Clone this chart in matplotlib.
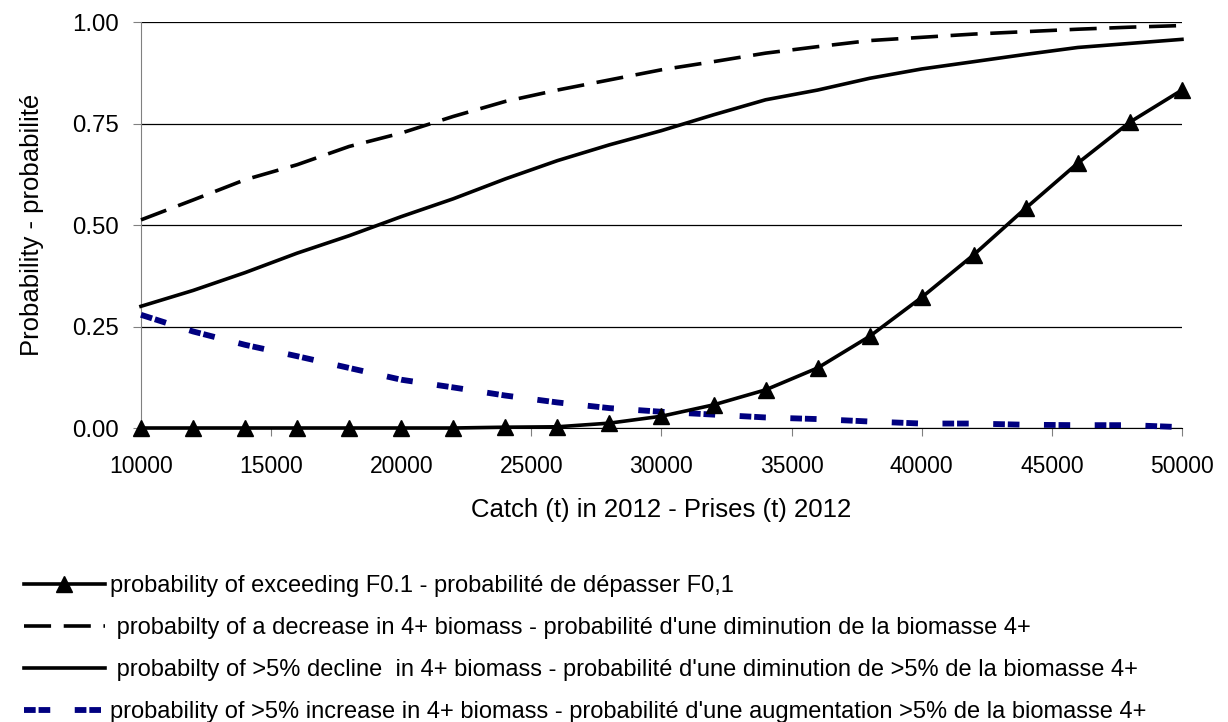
import matplotlib
matplotlib.use("Agg")
import matplotlib.pyplot as plt
from matplotlib.ticker import FormatStrFormatter

# catch scenarios (t) in 2012
catch = [10000, 12000, 14000, 16000, 18000, 20000, 22000, 24000, 26000, 28000, 30000,
         32000, 34000, 36000, 38000, 40000, 42000, 44000, 46000, 48000, 50000]

p_exceed_f01 = [0.0, 0.0, 0.0, 0.0, 0.0, 0.0, 0.0, 0.002, 0.003, 0.012, 0.029,
                0.057, 0.094, 0.148, 0.226, 0.322, 0.427, 0.542, 0.653, 0.754, 0.833]
p_decrease = [0.513, 0.562, 0.612, 0.649, 0.694, 0.727, 0.768, 0.805, 0.833, 0.858, 0.883,
              0.903, 0.924, 0.940, 0.955, 0.963, 0.971, 0.977, 0.983, 0.988, 0.992]
p_decline5 = [0.300, 0.339, 0.383, 0.431, 0.474, 0.521, 0.565, 0.614, 0.659, 0.698, 0.733,
              0.772, 0.809, 0.833, 0.862, 0.885, 0.903, 0.921, 0.938, 0.948, 0.958]
p_increase5 = [0.279, 0.238, 0.205, 0.177, 0.148, 0.119, 0.100, 0.080, 0.063, 0.049, 0.040,
               0.033, 0.026, 0.022, 0.016, 0.011, 0.011, 0.008, 0.007, 0.007, 0.002]

labels = [
    "probability of exceeding F0.1 - probabilité de dépasser F0,1",
    " probabilty of a decrease in 4+ biomass - probabilité d'une diminution de la biomasse 4+",
    " probabilty of >5% decline  in 4+ biomass - probabilité d'une diminution de >5% de la biomasse 4+",
    "probability of >5% increase in 4+ biomass - probabilité d'une augmentation >5% de la biomasse 4+",
]

plt.rcParams["font.family"] = ["Liberation Sans", "DejaVu Sans"]

fig = plt.figure(figsize=(12.28, 7.22), dpi=100)
ax = fig.add_axes([0.1148, 0.4072, 0.8477, 0.5619])

l1, = ax.plot(catch, p_exceed_f01, color="black", lw=2.6, marker="^", ms=12,
              clip_on=False, zorder=5)
l2, = ax.plot(catch, p_decrease, color="black", lw=2.6, dashes=(7.5, 3.5),
              clip_on=False, zorder=4)
l3, = ax.plot(catch, p_decline5, color="black", lw=2.6, clip_on=False, zorder=4)
l4, = ax.plot(catch, p_increase5, color="#000080", lw=4.2, dashes=(2, 0.5, 2, 4.2),
              dash_capstyle="butt", clip_on=False, zorder=3)

ax.set_xlim(10000, 50000)
ax.set_ylim(0, 1)
ax.set_xticks(range(10000, 50001, 5000))
ax.set_yticks([0, 0.25, 0.5, 0.75, 1.0])
ax.yaxis.set_major_formatter(FormatStrFormatter("%.2f"))
ax.grid(axis="y", color="black", lw=0.9)
ax.set_axisbelow(True)

for s in ["top", "right"]:
    ax.spines[s].set_visible(False)
ax.spines["left"].set_color("#808080")
ax.spines["bottom"].set_color("black")
ax.tick_params(axis="both", direction="out", length=6, color="#808080")
ax.tick_params(axis="x", pad=13.5, labelsize=16.5)
ax.tick_params(axis="y", pad=10, labelsize=17.3)

ax.set_xlabel("Catch (t) in 2012 - Prises (t) 2012", fontsize=18.5, labelpad=14)
ax.set_ylabel("Probability - probabilité", fontsize=18.5, labelpad=20)

fig.legend([l1, l2, l3, l4], labels, loc="upper left", bbox_to_anchor=(0.002, 0.233),
           frameon=False, handlelength=3.45, handletextpad=0.22,
           labelspacing=0.85, prop={"size": 17})

fig.savefig("out.png", dpi=100)
